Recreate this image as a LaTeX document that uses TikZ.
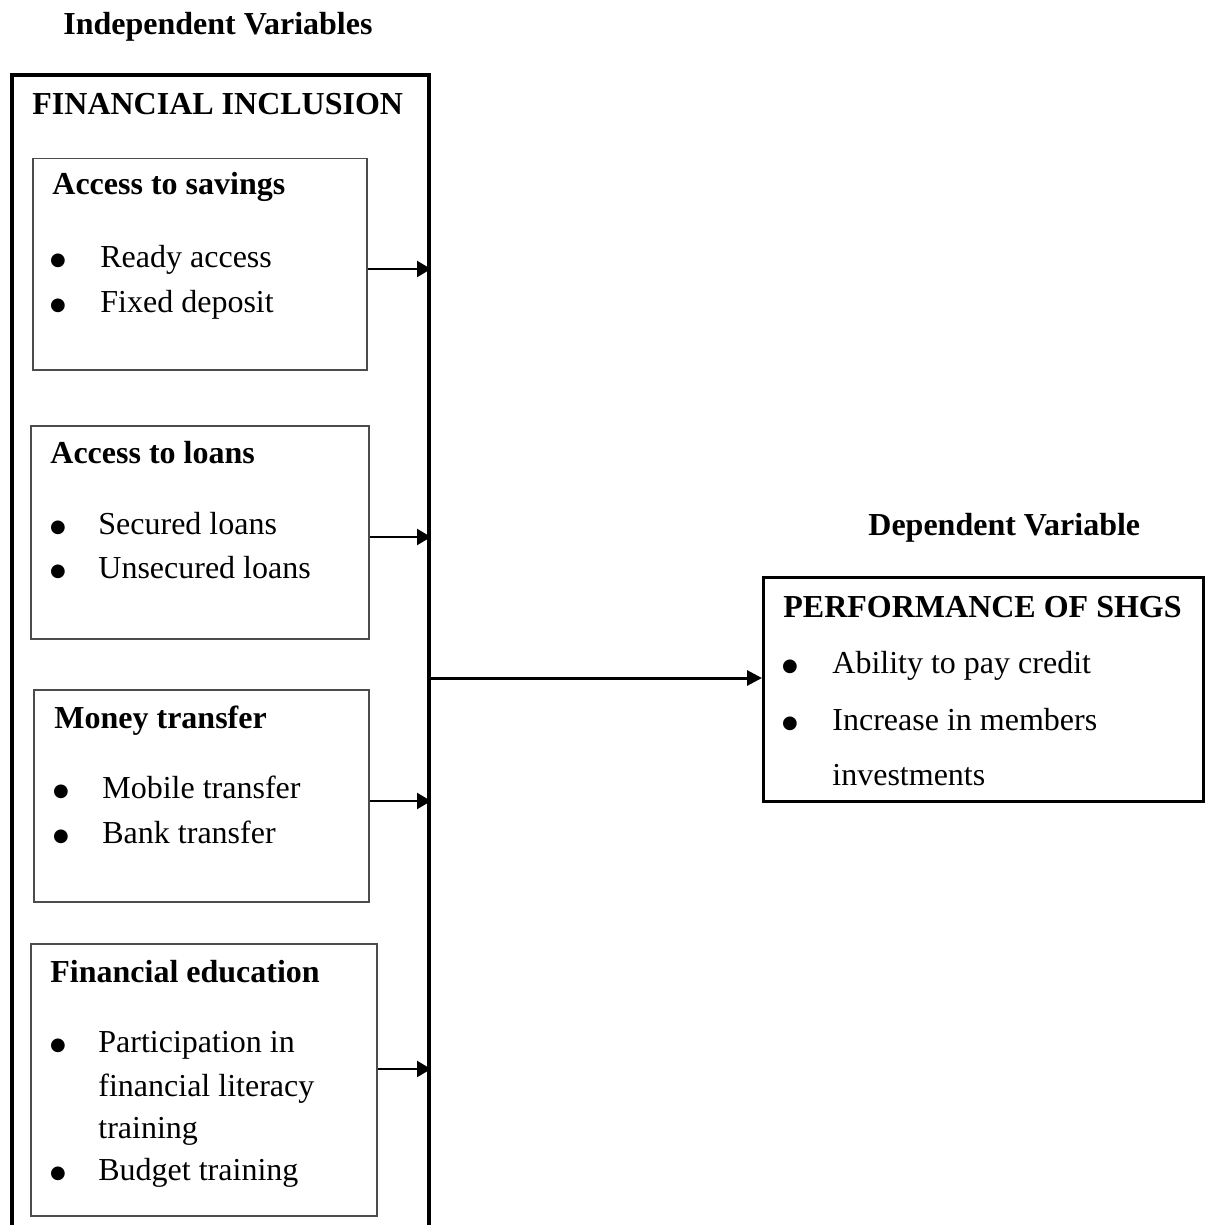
\documentclass[tikz,border=0pt]{standalone}
\usepackage{fontspec}
\setmainfont{Liberation Serif}
\newfontfamily\bulfont{DejaVu Sans}
\usetikzlibrary{arrows.meta}
\begin{document}
\begin{tikzpicture}[x=0.5pt,y=-0.5pt,
  txt/.style={anchor=base west, inner sep=0pt, font=\fontsize{16}{19}\selectfont},
  hd/.style={anchor=base west, inner sep=0pt, font=\fontsize{16}{19}\selectfont\bfseries},
  bul/.style={anchor=base, inner sep=0pt, yshift=1pt, font=\bulfont\fontsize{9}{10}\selectfont},
  inbox/.style={draw=black!70, line width=0.75pt, anchor=north west, inner sep=0pt},
  arr/.style={-{Triangle[length=7pt,width=8pt]}, line width=1.2pt},
  mainarr/.style={-{Triangle[length=7.5pt,width=7.5pt]}, line width=1.5pt}]
\useasboundingbox (0,0) rectangle (1206,1225);
\clip (0,0) rectangle (1206,1225);

% headings
\node[hd] (indep) at (63,35) {Independent Variables};
\node[hd] (dep) at (868,535) {Dependent Variable};

% outer box
\node[draw, line width=2pt, anchor=north west, inner sep=0pt,
      minimum width=208.5pt, minimum height=586pt] (outer) at (10,73) {};
\node[hd] (fi) at (32,115) {FINANCIAL INCLUSION};

% box 1
\node[inbox, minimum width=167pt, minimum height=105.5pt] (b1) at (32,158) {};
\node[hd] (b1h) at (52,195) {Access to savings};
\node[bul] (b1u1) at (58,267) {●};
\node[txt] (b1t1) at (100,267) {Ready access};
\node[bul] (b1u2) at (58,312) {●};
\node[txt] (b1t2) at (100,312) {Fixed deposit};

% box 2
\node[inbox, minimum width=169pt, minimum height=106.5pt] (b2) at (30,425) {};
\node[hd] (b2h) at (50,463) {Access to loans};
\node[bul] (b2u1) at (58,534) {●};
\node[txt] (b2t1) at (98,534) {Secured loans};
\node[bul] (b2u2) at (58,578) {●};
\node[txt] (b2t2) at (98,578) {Unsecured loans};

% box 3
\node[inbox, minimum width=167.5pt, minimum height=106pt] (b3) at (33,689) {};
\node[hd] (b3h) at (54,728) {Money transfer};
\node[bul] (b3u1) at (61,798) {●};
\node[txt] (b3t1) at (102,798) {Mobile transfer};
\node[bul] (b3u2) at (61,843) {●};
\node[txt] (b3t2) at (102,843) {Bank transfer};

% box 4
\node[inbox, minimum width=173pt, minimum height=136pt] (b4) at (30,943) {};
\node[hd] (b4h) at (50,982) {Financial education};
\node[bul] (b4u1) at (58,1052) {●};
\node[txt] (b4t1) at (98,1052) {Participation in};
\node[txt] (b4t2) at (98,1096) {financial literacy};
\node[txt] (b4t3) at (98,1138) {training};
\node[bul] (b4u2) at (58,1180) {●};
\node[txt] (b4t4) at (98,1180) {Budget training};

% right box
\node[draw, line width=1.5pt, anchor=north west, inner sep=0pt,
      minimum width=220pt, minimum height=112pt] (rb) at (762,576) {};
\node[hd] (rbh) at (783,617) {PERFORMANCE OF SHGS};
\node[bul] (rbu1) at (790,673) {●};
\node[txt] (rbt1) at (832,673) {Ability to pay credit};
\node[bul] (rbu2) at (790,730) {●};
\node[txt] (rbt2) at (832,730) {Increase in members};
\node[txt] (rbt3) at (832,785) {investments};

% arrow levels
\coordinate (a1) at (0,269);
\coordinate (a2) at (0,537);
\coordinate (a3) at (0,801);
\coordinate (a4) at (0,1069);
\coordinate (am) at (0,678);

\draw[arr] (b1.east |- a1) -- (outer.east |- a1);
\draw[arr] (b2.east |- a2) -- (outer.east |- a2);
\draw[arr] (b3.east |- a3) -- (outer.east |- a3);
\draw[arr] (b4.east |- a4) -- (outer.east |- a4);
\draw[mainarr] (outer.east |- am) -- (rb.west |- am);
\end{tikzpicture}
\end{document}
